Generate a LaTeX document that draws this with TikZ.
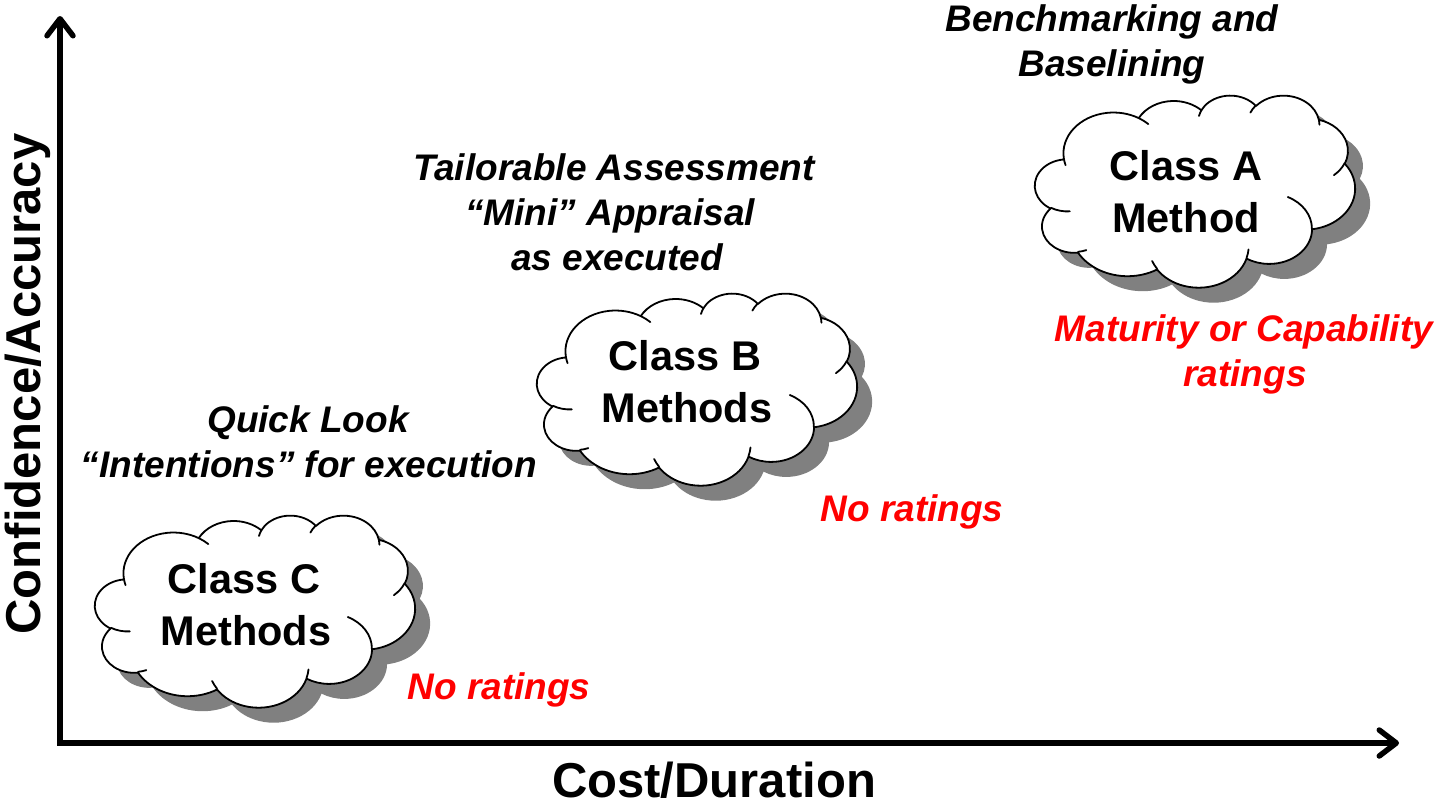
\documentclass[tikz,border=0pt]{standalone}
\usepackage{fontspec}
\setmainfont{Liberation Sans}
\usetikzlibrary{arrows.meta}

\definecolor{cloudshadow}{HTML}{808080}

% OOXML-style arcTo: wR, hR, start angle, sweep (visual angles, y down)
\newcommand\ooarc[4]{%
  \pgfmathsetmacro\ooS{atan2((#1)*sin(#3),(#2)*cos(#3))}%
  \pgfmathsetmacro\ooE{atan2((#1)*sin((#3)+(#4)),(#2)*cos((#3)+(#4)))}%
  \pgfmathsetmacro\ooD{mod(\ooE-(\ooS)+720,360)}%
  \pgfmathsetmacro\ooEnd{\ooS+\ooD}%
  \pgfpatharcaxes{\ooS}{\ooEnd}{\pgfpointxy{#1}{0}}{\pgfpointxy{0}{#2}}%
}
\newcommand\cloudmain{%
  \pgfpathmoveto{\pgfpointxy{39.00}{143.70}}%
  \ooarc{67.53}{91.90}{-190.4875}{123.7805}%
  \ooarc{53.33}{72.67}{-144.1024}{89.9452}%
  \ooarc{43.65}{59.45}{-145.8079}{99.7230}%
  \ooarc{48.57}{65.95}{-130.9861}{117.2417}%
  \ooarc{53.33}{72.73}{-78.7089}{109.0269}%
  \ooarc{67.75}{92.20}{-46.2673}{130.2690}%
  \ooarc{57.85}{78.67}{0.6250}{114.0333}%
  \ooarc{67.52}{92.15}{22.4516}{115.1726}%
  \ooarc{77.20}{105.43}{66.2426}{75.7110}%
  \ooarc{43.60}{59.18}{-274.9421}{146.7356}%
  \ooarc{43.45}{59.45}{-246.8285}{152.5189}%
  \pgfpathclose}
\newcommand\cloudinner{%
  \pgfpathmoveto{\pgfpointxy{46.93}{261.77}}\ooarc{43.45}{59.45}{86.7420}{26.4295}%
  \pgfpathmoveto{\pgfpointxy{69.28}{348.99}}\ooarc{43.60}{59.18}{73.6105}{11.4475}%
  \pgfpathmoveto{\pgfpointxy{164.78}{390.90}}\ooarc{67.52}{92.15}{137.6242}{14.0811}%
  \pgfpathmoveto{\pgfpointxy{288.27}{347.51}}\ooarc{67.52}{92.15}{6.4533}{15.9984}%
  \pgfpathmoveto{\pgfpointxy{341.29}{229.54}}\ooarc{57.85}{78.67}{-70.2924}{70.9174}%
  \pgfpathmoveto{\pgfpointxy{417.98}{153.54}}\ooarc{53.33}{72.73}{30.3180}{27.7515}%
  \pgfpathmoveto{\pgfpointxy{383.24}{54.26}}\ooarc{48.57}{65.95}{-13.7443}{14.8589}%
  \pgfpathmoveto{\pgfpointxy{290.78}{39.52}}\ooarc{48.57}{65.95}{-149.1815}{18.1954}%
  \pgfpathmoveto{\pgfpointxy{221.41}{47.20}}\ooarc{43.65}{59.45}{-163.4943}{17.6864}%
  \pgfpathmoveto{\pgfpointxy{140.00}{51.92}}\ooarc{67.53}{91.90}{-66.7070}{12.3194}%
  \pgfpathmoveto{\pgfpointxy{41.27}{157.89}}\ooarc{67.53}{91.90}{157.6544}{11.8582}%
}
\newcommand\drawcloud[2]{%
  \begin{scope}[shift={(#1+15,#2+15)},x=0.74074pt,y=-0.44444pt]
    \cloudmain\pgfsetfillcolor{cloudshadow}\pgfusepath{fill}
  \end{scope}
  \begin{scope}[shift={(#1,#2)},x=0.74074pt,y=-0.44444pt]
    \pgfsetlinewidth{1.8pt}\pgfsetroundjoin\pgfsetroundcap
    \pgfsetstrokecolor{black}\pgfsetfillcolor{white}
    \cloudmain\pgfusepath{fill,stroke}
    \cloudinner\pgfusepath{stroke}
  \end{scope}}

\tikzset{
  classtxt/.style={font=\bfseries\fontsize{41.5}{41.5}\selectfont, anchor=base, inner sep=0pt},
  lbl/.style={font=\bfseries\itshape\fontsize{37}{37}\selectfont, anchor=base, inner sep=0pt},
  redlbl/.style={lbl, text=red},
  axlbl/.style={font=\bfseries\fontsize{49}{49}\selectfont, anchor=base, inner sep=0pt},
  axisline/.style={line width=6pt, line join=miter,
    {Straight Barb[round, length=17pt, width=26pt, line width=5.5pt]}-{Straight Barb[round, length=17pt, width=26pt, line width=5.5pt]}}
}

\begin{document}
\begin{tikzpicture}[x=1pt,y=-1pt]
\useasboundingbox (0,0) rectangle (1437,804);

% axes
\coordinate (ytip) at (60,16);
\coordinate (origin) at (60,743);
\coordinate (xtip) at (1399,743);
\draw[axisline] (ytip) -- (origin) -- (xtip);

% clouds
\drawcloud{95}{515}
\drawcloud{537}{293}
\drawcloud{1035}{95}

% cloud texts
\node[classtxt] (cC1) at (244,593) {Class C};
\node[classtxt] (cC2) at (246,645) {Methods};
\node[classtxt] (cB1) at (685,370) {Class B};
\node[classtxt] (cB2) at (687,422) {Methods};
\node[classtxt] (cA1) at (1186,180) {Class A};
\node[classtxt] (cA2) at (1186,232) {Method};

% labels
\node[lbl] (bench1) at (1112,31) {Benchmarking and};
\node[lbl] (bench2) at (1112,76) {Baselining};
\node[lbl] (tail1) at (614,180) {Tailorable Assessment};
\node[lbl] (tail2) at (610,225) {“Mini” Appraisal};
\node[lbl] (tail3) at (617,270) {as executed};
\node[lbl] (quick1) at (308,432) {Quick Look};
\node[lbl] (quick2) at (309,477) {“Intentions” for execution};

\node[redlbl] (rA1) at (1244,341) {Maturity or Capability};
\node[redlbl] (rA2) at (1245,386) {ratings};
\node[redlbl] (rB) at (912,521) {No ratings};
\node[redlbl] (rC) at (499,699) {No ratings};

% axis labels
\node[axlbl, rotate=90] (ylab) at (40,384) {Confidence/Accuracy};
\node[axlbl] (xlab) at (714,797) {Cost/Duration};
\end{tikzpicture}
\end{document}
